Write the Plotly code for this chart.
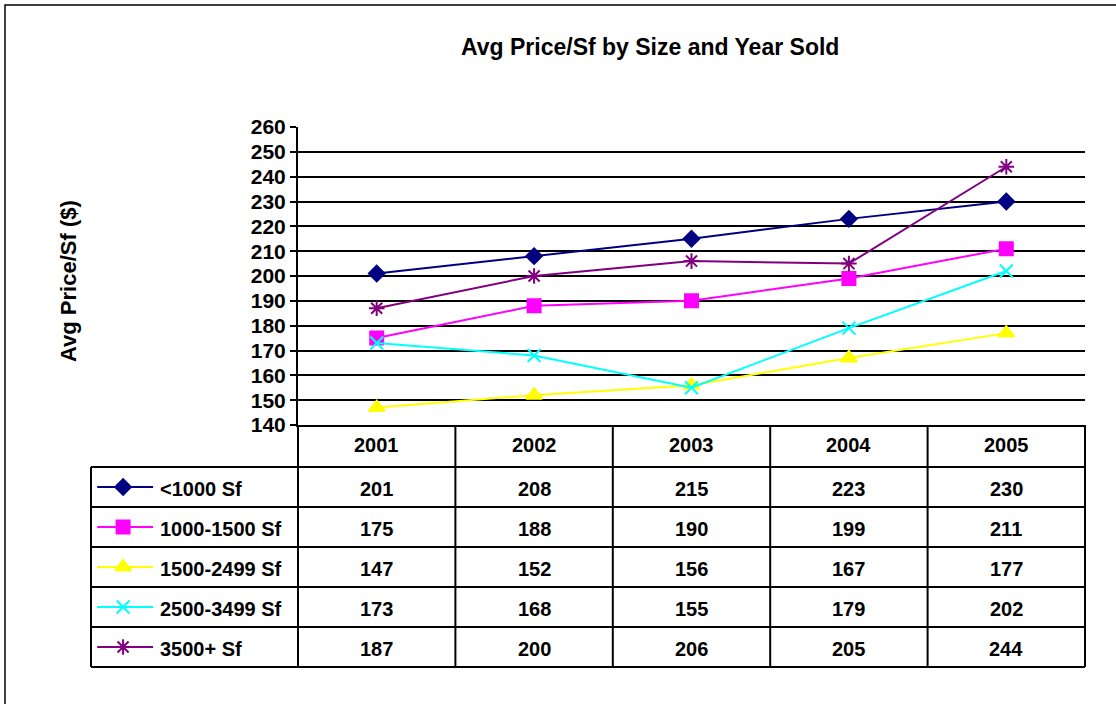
import plotly.graph_objects as go

YEARS = ["2001", "2002", "2003", "2004", "2005"]
SERIES = ["<1000 Sf", "1000-1500 Sf", "1500-2499 Sf", "2500-3499 Sf", "3500+ Sf"]
UNDER_1000 = [201, 208, 215, 223, 230]
FROM_1000 = [175, 188, 190, 199, 211]
FROM_1500 = [147, 152, 156, 167, 177]
FROM_2500 = [173, 168, 155, 179, 202]
OVER_3500 = [187, 200, 206, 205, 244]
VALUES = [UNDER_1000, FROM_1000, FROM_1500, FROM_2500, OVER_3500]

COLORS = ["#000080", "#ff00ff", "#ffff00", "#00ffff", "#800080"]
SYMBOLS = ["diamond", "square", "triangle-up", "x-thin-open", "asterisk-open"]
SIZES = [12, 13, 14, 13, 13]

FONT = "Arial, Liberation Sans, sans-serif"
W, H = 1116, 704

# pixel layout of the excel-style chart + data table
PLOT_L, PLOT_R, PLOT_T, PLOT_B = 298, 1085, 127, 425
TABLE_L, HEADER_B, ROW_H = 91, 467, 40
TABLE_B = HEADER_B + ROW_H * len(SERIES)


def px(x):
    return x / W


def py(y):
    return 1 - y / H


fig = go.Figure()

for name, vals, color, sym, size in zip(SERIES, VALUES, COLORS, SYMBOLS, SIZES):
    fig.add_trace(go.Scatter(
        x=YEARS, y=vals, name=name, mode="lines+markers",
        line=dict(color=color, width=2),
        marker=dict(symbol=sym, size=size, color=color, line=dict(color=color, width=2)),
        xaxis="x", yaxis="y",
    ))
    # legend key inside the data table
    row = SERIES.index(name)
    fig.add_trace(go.Scatter(
        x=[0.03, 0.3], y=[row, row], mode="lines", line=dict(color=color, width=2),
        xaxis="x2", yaxis="y2", hoverinfo="skip",
    ))
    fig.add_trace(go.Scatter(
        x=[0.155], y=[row], mode="markers",
        marker=dict(symbol=sym, size=size, color=color, line=dict(color=color, width=2)),
        xaxis="x2", yaxis="y2", hoverinfo="skip",
    ))

shapes = []
line = dict(color="black", width=2)
col_w = (PLOT_R - PLOT_L) / len(YEARS)
# vertical lines of the table
for i in range(len(YEARS) + 1):
    xx = PLOT_L + i * col_w
    shapes.append(dict(type="line", xref="paper", yref="paper",
                       x0=px(xx), x1=px(xx), y0=py(PLOT_B), y1=py(TABLE_B), line=line))
shapes.append(dict(type="line", xref="paper", yref="paper",
                   x0=px(TABLE_L), x1=px(TABLE_L), y0=py(HEADER_B), y1=py(TABLE_B), line=line))
# horizontal lines
for r in range(len(SERIES) + 1):
    yy = HEADER_B + r * ROW_H
    shapes.append(dict(type="line", xref="paper", yref="paper",
                       x0=px(TABLE_L), x1=px(PLOT_R), y0=py(yy), y1=py(yy), line=line))
# outer chart frame (right and bottom edges fall outside the picture)
shapes.append(dict(type="rect", xref="paper", yref="paper",
                   x0=px(5), x1=px(1125), y0=py(5), y1=py(720),
                   line=dict(color="black", width=1.5)))

annotations = []
tfont = dict(family=FONT, size=20, color="black", weight="bold")
for i, yr in enumerate(YEARS):
    cx = PLOT_L + (i + 0.5) * col_w
    annotations.append(dict(text=yr, x=px(cx), y=py((PLOT_B + HEADER_B) / 2 - 1),
                            xanchor="center", yanchor="middle",
                            xref="paper", yref="paper", showarrow=False, font=tfont))
    for r, vals in enumerate(VALUES):
        annotations.append(dict(text=str(vals[i]), x=px(cx), y=py(HEADER_B + (r + 0.5) * ROW_H + 2),
                                xanchor="center", yanchor="middle",
                                xref="paper", yref="paper", showarrow=False, font=tfont))
for r, name in enumerate(SERIES):
    annotations.append(dict(text=name, x=0.325, y=r + 0.05, xref="x2", yref="y2", xanchor="left",
                            yanchor="middle", showarrow=False, font=tfont))

annotations.append(dict(text="Avg Price/Sf by Size and Year Sold", x=px(650), y=py(47),
                        xanchor="center", yanchor="middle",
                        xref="paper", yref="paper", showarrow=False,
                        font=dict(family=FONT, size=23, color="black", weight="bold")))
annotations.append(dict(text="Avg Price/Sf ($)", x=px(68), y=py(281), textangle=-90,
                        xanchor="center", yanchor="middle",
                        xref="paper", yref="paper", showarrow=False,
                        font=dict(family=FONT, size=22, color="black", weight="bold")))

fig.update_layout(
    width=W, height=H, autosize=False,
    margin=dict(l=0, r=0, t=0, b=0, autoexpand=False),
    paper_bgcolor="white", plot_bgcolor="white",
    showlegend=False,
    font=dict(family=FONT, color="black"),
    xaxis=dict(domain=[px(PLOT_L), px(PLOT_R)], range=[-0.5, 4.5], type="category",
               showticklabels=False, showgrid=False, zeroline=False,
               showline=True, linecolor="black", linewidth=2, ticks=""),
    yaxis=dict(domain=[py(PLOT_B), py(PLOT_T)], range=[140, 260], dtick=10,
               showgrid=True, gridcolor="black", gridwidth=1.5, zeroline=False,
               showline=True, linecolor="black", linewidth=2,
               ticks="outside", ticklen=6, tickcolor="black", tickwidth=2,
               tickfont=dict(family=FONT, size=21, color="black", weight="bold")),
    xaxis2=dict(domain=[px(TABLE_L), px(PLOT_L)], range=[0, 1], visible=False),
    yaxis2=dict(domain=[py(TABLE_B), py(HEADER_B)], range=[len(SERIES) - 0.5, -0.5],
                visible=False),
    shapes=shapes,
    annotations=annotations,
)

# page body has a default 8px margin; drop it so the figure sits at the origin
fig.write_html("out.html", config={"displayModeBar": False},
               post_script="document.body.style.margin = '0';")
